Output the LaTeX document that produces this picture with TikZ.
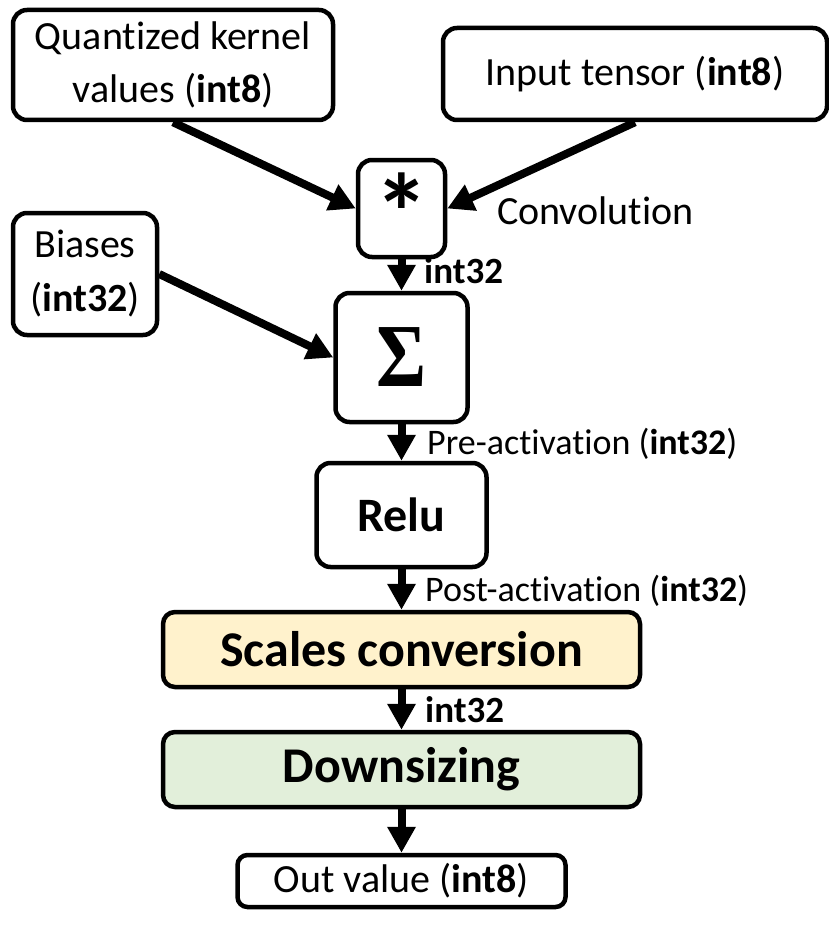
\documentclass[tikz,border=0pt]{standalone}
\usepackage{fontspec}
\setmainfont{Carlito}[Ligatures=NoCommon]
\newfontfamily\sigmafont{Liberation Serif}
\usetikzlibrary{arrows.meta}
\definecolor{scalesfill}{HTML}{FFF2CC}
\definecolor{downfill}{HTML}{E2EFDA}
\begin{document}
\begin{tikzpicture}[x=1pt,y=-1pt,
  box/.style={draw, line width=4.5pt, rounded corners=14pt, inner sep=0pt, align=center, font=\fontsize{40}{53}\selectfont},
  flow/.style={line width=8pt, -{Triangle[length=26pt,width=27pt]}},
  lbl/.style={anchor=west, inner sep=0pt, font=\fontsize{36}{42}\selectfont}]
\useasboundingbox (0,0) rectangle (829,931);
\node[box, minimum width=320pt, minimum height=110pt] (qk) at (173,65) {Quantized kernel\\values (\textbf{int8})};
\node[box, minimum width=384pt, minimum height=92pt] (it) at (635,74) {Input tensor (\textbf{int8})};
\node[box, minimum width=87pt, minimum height=97pt] (conv) at (401.5,208.5) {};
\node[inner sep=0pt, font=\fontsize{110}{110}\selectfont\bfseries] (ast) at ([yshift=-4pt]conv.center) {*};
\node[box, minimum width=144pt, minimum height=122pt, font=\fontsize{40}{54}\selectfont] (bias) at (85,274) {Biases\\(\textbf{int32})};
\node[box, minimum width=132pt, minimum height=129pt, font=\fontsize{90}{90}\sigmafont\bfseries] (sum) at (401.5,357.5) {\scalebox{0.85}[1]{Σ}};
\node[box, minimum width=170pt, minimum height=104pt, font=\fontsize{48}{48}\selectfont\bfseries] (relu) at (401.5,515) {Relu};
\node[box, fill=scalesfill, minimum width=477pt, minimum height=75pt, rounded corners=12pt, font=\fontsize{50}{50}\selectfont\bfseries] (scales) at (401.5,649.5) {Scales conversion};
\node[box, fill=downfill, minimum width=477pt, minimum height=75pt, rounded corners=12pt, font=\fontsize{50}{50}\selectfont\bfseries] (down) at (401.5,769.5) {Downsizing};
\node[box, minimum width=328pt, minimum height=52pt, rounded corners=10pt] (out) at (401.5,881) {Out value (\textbf{int8})};

\node[lbl, font=\fontsize{40}{48}\selectfont] (convl) at (497,211) {Convolution};
\node[lbl, font=\fontsize{37}{42}\selectfont\bfseries] (i1) at (424,271) {int32};
\node[lbl] (pre) at (427,444) {Pre-activation (\textbf{int32})};
\node[lbl] (post) at (425,591) {Post-activation (\textbf{int32})};
\node[lbl, font=\fontsize{37}{42}\selectfont\bfseries] (i2) at (425,710) {int32};

\draw[flow] (qk.south) -- (conv.west);
\draw[flow] (it.south) -- (conv.east);
\draw[flow] (bias.east) -- (sum.west);
\draw[flow] (conv.south) -- (sum.north);
\draw[flow] (sum.south) -- (relu.north);
\draw[flow] (relu.south) -- (scales.north);
\draw[flow] (scales.south) -- (down.north);
\draw[flow] (down.south) -- (out.north);
\end{tikzpicture}
\end{document}
